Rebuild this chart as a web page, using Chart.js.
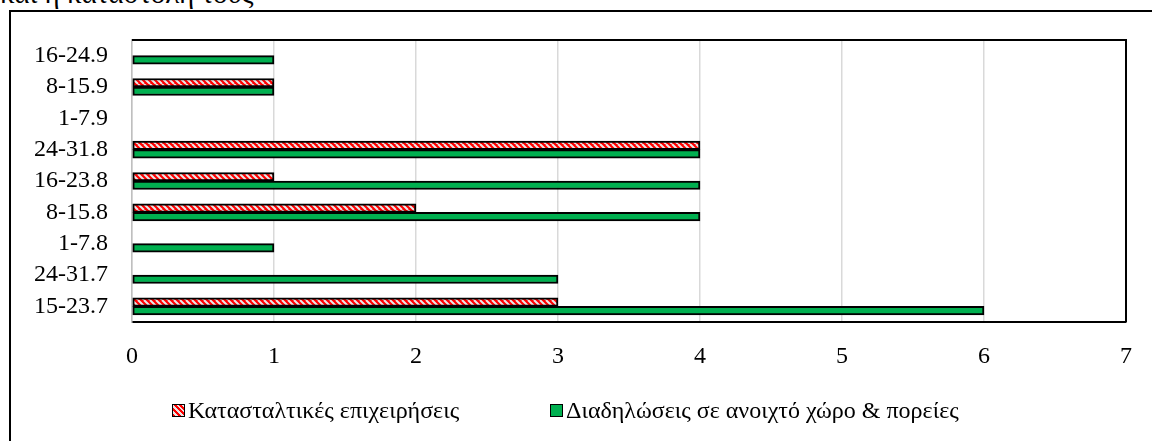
<!DOCTYPE html>
<html>
<head>
<meta charset="utf-8">
<script src="https://cdn.jsdelivr.net/npm/chart.js@4/dist/chart.umd.min.js"></script>
<style>
  body { margin: 0; background: #fff; }
  #wrap { position: relative; width: 1152px; height: 441px; overflow: hidden; font-family: "Liberation Serif", "DejaVu Serif", serif; }
  #title { position: absolute; left: 0; top: -21px; font-family: "Liberation Serif", serif; font-size: 29px; line-height: 29px; color: #000; white-space: nowrap; }
  #frame { position: absolute; left: 9px; top: 10px; width: 1200px; height: 500px; border: 2px solid #000; box-sizing: border-box; }
  canvas { position: absolute; left: 0; top: 0; }
  .leg { position: absolute; top: 396px; font-size: 24px; line-height: 28px; color: #000; white-space: nowrap; }
  .sw { display: inline-block; width: 11px; height: 11px; border: 1px solid #000; vertical-align: 1px; margin-right: 3px; }
  .sw.red { background: repeating-linear-gradient(45deg, #ff0000 0 2px, #e6e6e6 2px 4px); }
  .sw.green { background: #00b050; }
</style>
</head>
<body>
<div id="wrap">
  <div id="title">και η καταστολή τους</div>
  <div id="frame"></div>
  <canvas id="chart" width="1152" height="441"></canvas>
  <div class="leg" style="left:172px"><span class="sw red"></span>Κατασταλτικές επιχειρήσεις</div>
  <div class="leg" style="left:550px"><span class="sw green"></span>Διαδηλώσεις σε ανοιχτό χώρο &amp; πορείες</div>
</div>
<script>
// categories listed bottom to top, as in the original sheet
const periods = ['15-23.7', '24-31.7', '1-7.8', '8-15.8', '16-23.8', '24-31.8', '1-7.9', '8-15.9', '16-24.9'];
const katastaltikes = [3, 0, 0, 2, 1, 4, 0, 1, 0];
const diadiloseis = [6, 3, 1, 4, 4, 4, 0, 1, 1];
const xTicks = [0, 1, 2, 3, 4, 5, 6, 7];

function hatchPattern() {
  const c = document.createElement('canvas');
  c.width = 6; c.height = 6;
  const g = c.getContext('2d');
  g.fillStyle = '#ff0000';
  g.fillRect(0, 0, 6, 6);
  g.strokeStyle = '#e8e8e8';
  g.lineWidth = 2;
  g.beginPath();
  for (let i = -6; i <= 12; i += 6) {
    g.moveTo(i, 0);
    g.lineTo(i + 6, 6);
  }
  g.stroke();
  return g.createPattern(c, 'repeat');
}

// black frame on top and right of the plot area
const plotFrame = {
  id: 'plotFrame',
  afterDraw(chart) {
    const { ctx, chartArea: a } = chart;
    ctx.save();
    ctx.strokeStyle = '#000';
    ctx.lineWidth = 2;
    ctx.beginPath();
    ctx.moveTo(a.left, a.top);
    ctx.lineTo(a.right, a.top);
    ctx.lineTo(a.right, a.bottom);
    ctx.stroke();
    ctx.restore();
  }
};

const font = { family: '"Liberation Serif", serif', size: 24 };

new Chart(document.getElementById('chart'), {
  type: 'bar',
  data: {
    labels: periods,
    datasets: [
      {
        label: 'Κατασταλτικές επιχειρήσεις',
        data: katastaltikes,
        backgroundColor: hatchPattern(),
        borderColor: '#000',
        borderWidth: 2,
        borderSkipped: false,
        barThickness: 8.5
      },
      {
        label: 'Διαδηλώσεις σε ανοιχτό χώρο & πορείες',
        data: diadiloseis,
        backgroundColor: '#00b050',
        borderColor: '#000',
        borderWidth: 2,
        borderSkipped: false,
        barThickness: 8.5
      }
    ]
  },
  options: {
    indexAxis: 'y',
    responsive: false,
    animation: false,
    layout: { padding: { top: 40, right: 24, left: 0, bottom: 0 } },
    plugins: { legend: { display: false }, tooltip: { enabled: false } },
    scales: {
      x: {
        min: 0,
        max: 7,
        afterBuildTicks: s => { s.ticks = xTicks.map(v => ({ value: v })); },
        afterFit: s => { s.height = 119; },
        grid: { color: '#d9d9d9', lineWidth: 1.5, drawTicks: false },
        border: { color: '#000', width: 2 },
        ticks: { font, color: '#000', padding: 20 }
      },
      y: {
        reverse: true,
        afterFit: s => { s.width = 132; },
        grid: { display: false, drawTicks: false },
        border: { color: '#bfbfbf', width: 1.5 },
        ticks: { font, color: '#000', padding: 24, autoSkip: false }
      }
    }
  },
  plugins: [plotFrame]
});
</script>
</body>
</html>
